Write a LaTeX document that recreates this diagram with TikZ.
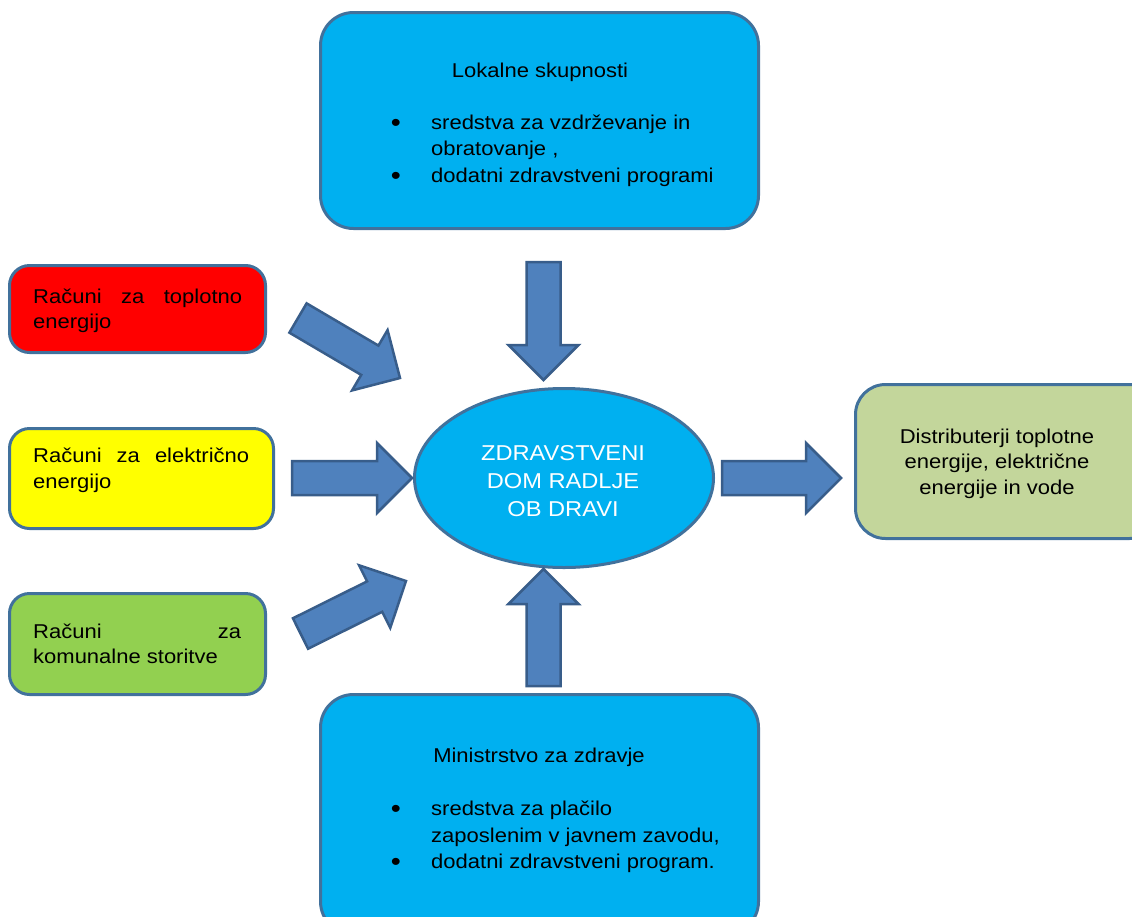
\documentclass[tikz,border=0pt]{standalone}
\usepackage{fontspec}
\setmainfont{Liberation Sans}[FakeStretch=1.1]
\usetikzlibrary{calc,shapes.geometric}
\definecolor{cyanbox}{HTML}{00B0F0}
\definecolor{edgeblue}{HTML}{41719C}
\definecolor{arrowfill}{HTML}{4F81BD}
\definecolor{arrowedge}{HTML}{385D8A}
\definecolor{redbox}{HTML}{FF0000}
\definecolor{yellowbox}{HTML}{FFFF00}
\definecolor{greenbox}{HTML}{92D050}
\definecolor{olivebox}{HTML}{C3D69B}
\tikzset{
  boxstyle/.style={draw=edgeblue, line width=3pt, rectangle, inner sep=0pt},
  barrow/.style={draw=arrowedge, fill=arrowfill, line width=2.5pt, line join=miter},
  txt/.style={inner sep=0pt, font=\fontsize{20}{25.5}\selectfont},
  bullettxt/.style={inner sep=0pt, font=\fontsize{26}{26}\selectfont},
  bigtxt/.style={inner sep=0pt, text=white, font=\fontsize{21.5}{28}\selectfont}
}
\newcommand{\blockarrow}[3]{%
  \coordinate (#1-j) at ($(#3)!35pt!(#2)$);
  \draw[barrow] ($(#2)!17pt!90:(#3)$) -- ($(#1-j)!17pt!90:(#3)$) -- ($(#1-j)!35pt!90:(#3)$) -- (#3)
    -- ($(#1-j)!35pt!-90:(#3)$) -- ($(#1-j)!17pt!-90:(#3)$) -- ($(#2)!17pt!-90:(#3)$) -- cycle;
}
\begin{document}
\begin{tikzpicture}[x=1pt, y=-1pt]
\useasboundingbox (0,0) rectangle (1132,916);
\clip (0,0) rectangle (1132,916);

% boxes
\node[boxstyle, fill=cyanbox, rounded corners=33pt, minimum width=438pt, minimum height=216pt] (top) at (539.5,120.5) {};
\node[boxstyle, fill=cyanbox, rounded corners=33pt, minimum width=438pt, minimum height=240pt] (bottom) at (539.5,814.5) {};
\node[boxstyle, fill=redbox, rounded corners=20pt, minimum width=256pt, minimum height=87pt] (red) at (137.5,309) {};
\node[boxstyle, fill=yellowbox, rounded corners=20pt, minimum width=264pt, minimum height=100pt] (yellow) at (141.5,478.5) {};
\node[boxstyle, fill=greenbox, rounded corners=20pt, minimum width=256pt, minimum height=101pt] (green) at (137.5,644) {};
\node[boxstyle, fill=olivebox, rounded corners=30pt, minimum width=304pt, minimum height=154pt] (right) at (1007.5,461.5) {};
\node[draw=edgeblue, line width=3pt, fill=cyanbox, ellipse, inner sep=0pt, minimum width=299pt, minimum height=179pt] (center) at (564,478) {};

% texts: top box
\node[txt, anchor=base] (toptitle) at (540,77) {Lokalne skupnosti};
\node[bullettxt, anchor=base] (topb1) at (396,131) {•};
\node[txt, anchor=base west] (topl1) at (431,129) {sredstva za vzdrževanje in};
\node[txt, anchor=base west] (topl2) at (431,155) {obratovanje ,};
\node[bullettxt, anchor=base] (topb2) at (396,184) {•};
\node[txt, anchor=base west] (topl3) at (431,182) {dodatni zdravstveni programi};

% texts: bottom box
\node[txt, anchor=base] (bottitle) at (539,762) {Ministrstvo za zdravje};
\node[bullettxt, anchor=base] (botb1) at (396,817) {•};
\node[txt, anchor=base west] (botl1) at (431,815) {sredstva za plačilo};
\node[txt, anchor=base west] (botl2) at (431,842) {zaposlenim v javnem zavodu,};
\node[bullettxt, anchor=base] (botb2) at (396,870) {•};
\node[txt, anchor=base west] (botl3) at (431,868) {dodatni zdravstveni program.};

% texts: left boxes
\node[txt, anchor=base west] (redt1) at (33,303) {\hbox to 209pt{Računi\hfill za\hfill toplotno}};
\node[txt, anchor=base west] (redt2) at (33,328) {energijo};
\node[txt, anchor=base west] (yelt1) at (33,462) {\hbox to 216pt{Računi\hfill za\hfill električno}};
\node[txt, anchor=base west] (yelt2) at (33,488) {energijo};
\node[txt, anchor=base west] (grnt1) at (33,638) {\hbox to 208pt{Računi\hfill za}};
\node[txt, anchor=base west] (grnt2) at (33,663) {komunalne storitve};

% texts: right box
\node[txt, anchor=base] (rt1) at (997,443) {Distributerji toplotne};
\node[txt, anchor=base] (rt2) at (997,468) {energije, električne};
\node[txt, anchor=base] (rt3) at (997,494) {energije in vode};

% center text
\node[bigtxt, anchor=base] (ct1) at (563,460) {ZDRAVSTVENI};
\node[bigtxt, anchor=base] (ct2) at (563,488) {DOM RADLJE};
\node[bigtxt, anchor=base] (ct3) at (563,516) {OB DRAVI};

% block arrows
\coordinate (a1t) at (543.5,262);  \coordinate (a1h) at (543.5,380);
\coordinate (a2t) at (543.5,686);  \coordinate (a2h) at (543.5,569);
\coordinate (a3t) at (292,478);    \coordinate (a3h) at (412,478);
\coordinate (a4t) at (722,478);    \coordinate (a4h) at (841,478);
\coordinate (a5t) at (298,318);    \coordinate (a5h) at (400,378);
\coordinate (a6t) at (300.5,633.5);\coordinate (a6h) at (406,581);
\blockarrow{a1}{a1t}{a1h}
\blockarrow{a2}{a2t}{a2h}
\blockarrow{a3}{a3t}{a3h}
\blockarrow{a4}{a4t}{a4h}
\blockarrow{a5}{a5t}{a5h}
\blockarrow{a6}{a6t}{a6h}
\end{tikzpicture}
\end{document}
